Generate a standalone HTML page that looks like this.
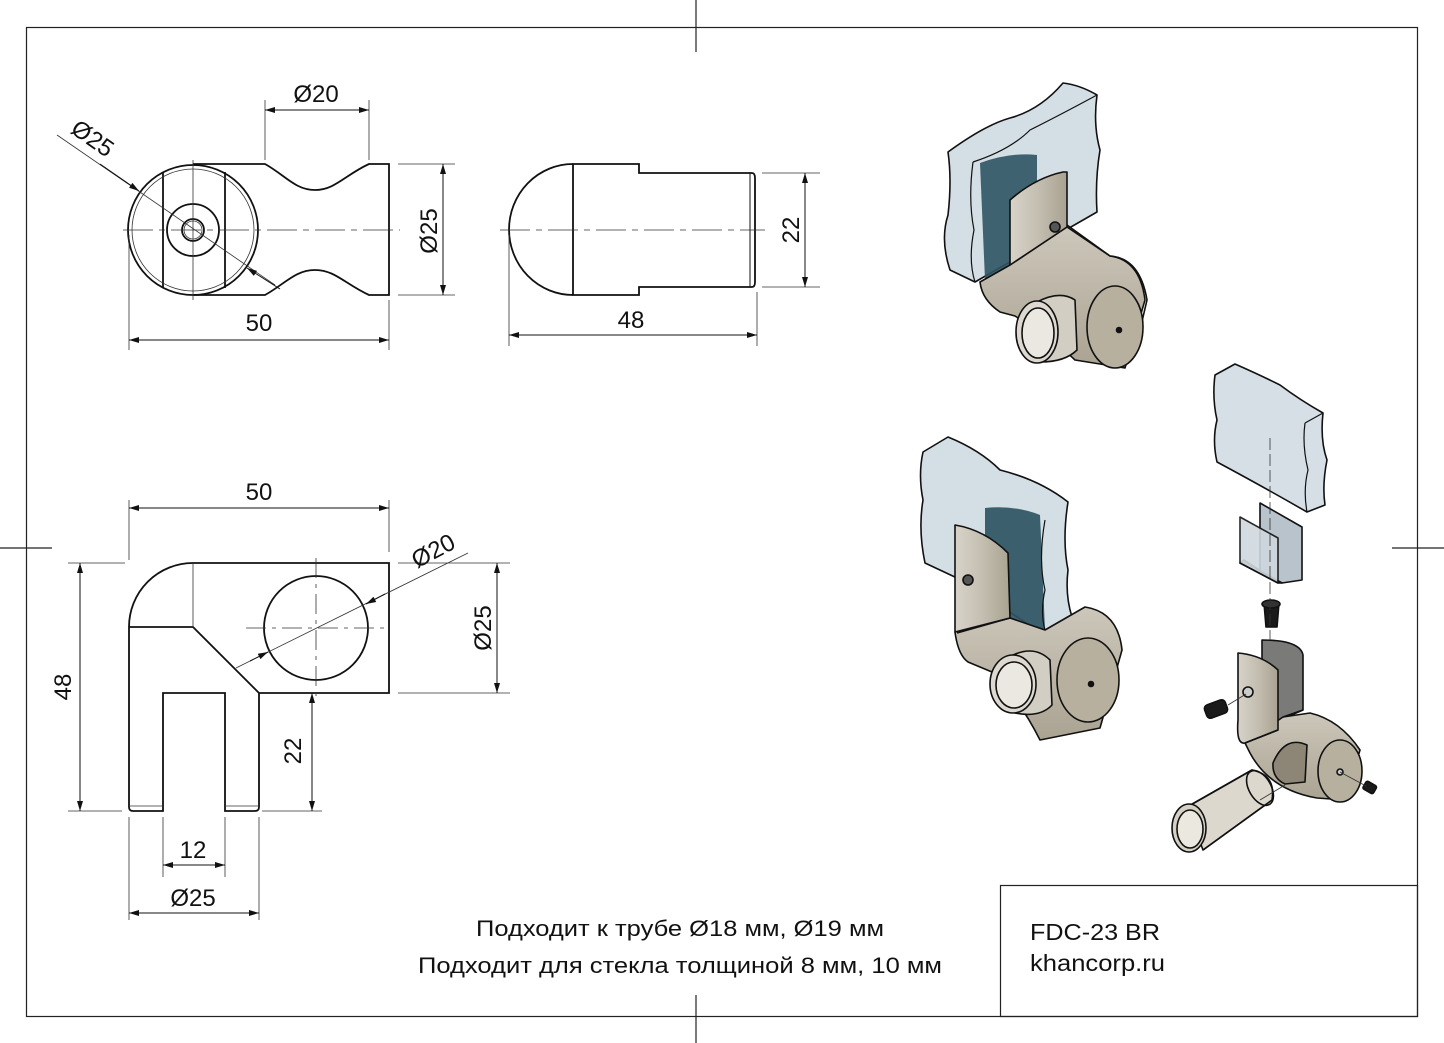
<!DOCTYPE html>
<html><head><meta charset="utf-8"><style>
html,body{margin:0;padding:0;background:#fff}
svg{display:block}
text{font-family:"Liberation Sans",sans-serif;fill:#111}
</style></head><body>
<svg width="1444" height="1043" viewBox="0 0 1444 1043" xmlns="http://www.w3.org/2000/svg">
<defs>
<marker id="a" viewBox="0 0 10 6" refX="10" refY="3" markerWidth="14" markerHeight="6" markerUnits="userSpaceOnUse" orient="auto-start-reverse"><path d="M0,0 L10,3 L0,6 z" fill="#111"/></marker>
<linearGradient id="m" x1="0" y1="0" x2="1" y2="0"><stop offset="0" stop-color="#d8d3c9"/><stop offset="0.5" stop-color="#c4beb1"/><stop offset="1" stop-color="#a9a291"/></linearGradient>
<linearGradient id="b" x1="0" y1="0" x2="0" y2="1"><stop offset="0" stop-color="#cdc7bb"/><stop offset="1" stop-color="#aaa392"/></linearGradient>
</defs>
<rect width="1444" height="1043" fill="#fff"/>
<g stroke="#222" stroke-width="1.2" fill="none">
<rect x="26.5" y="27.5" width="1391" height="989"/>
<line x1="696" y1="0" x2="696" y2="52"/><line x1="696" y1="995" x2="696" y2="1043"/>
<line x1="0" y1="548" x2="52" y2="548"/><line x1="1392" y1="548" x2="1444" y2="548"/>
<rect x="1000.5" y="885.5" width="417" height="131"/>
</g>
<text x="1030" y="940" font-size="23" textLength="130" lengthAdjust="spacingAndGlyphs">FDC-23 BR</text>
<text x="1030" y="971" font-size="23" textLength="135" lengthAdjust="spacingAndGlyphs">khancorp.ru</text>
<text x="476" y="936" font-size="22" textLength="408" lengthAdjust="spacingAndGlyphs">Подходит к трубе Ø18 мм, Ø19 мм</text>
<text x="418" y="973" font-size="22" textLength="524" lengthAdjust="spacingAndGlyphs">Подходит для стекла толщиной 8 мм, 10 мм</text>

<!-- TOP VIEW -->
<g stroke="#111" stroke-width="1.8" fill="none">
<circle cx="193" cy="230" r="65"/>
<path d="M193,164 H265 C285,175 295,190 315,190 C335,190 345,175 369,164 H389 V295 H369 C345,284 335,270 315,270 C295,270 285,284 265,295 H193"/>
<line x1="163" y1="172" x2="163" y2="288"/><line x1="225" y1="172" x2="225" y2="288"/>
<circle cx="193" cy="230" r="26"/><circle cx="193" cy="230" r="11"/>
</g>
<g stroke="#333" stroke-width="0.8" fill="none">
<circle cx="193" cy="230" r="61"/><circle cx="193" cy="230" r="9"/>
<line x1="123" y1="230" x2="400" y2="230" stroke-dasharray="30,6,6,6"/>
<line x1="193" y1="160" x2="193" y2="300"/>
<line x1="265" y1="100" x2="265" y2="160"/><line x1="369" y1="100" x2="369" y2="160"/>
<line x1="398" y1="164" x2="455" y2="164"/><line x1="398" y1="295" x2="455" y2="295"/>
<line x1="129" y1="235" x2="129" y2="350"/><line x1="389" y1="300" x2="389" y2="350"/>
<line x1="57" y1="135" x2="275" y2="285"/>
</g>
<g stroke="#111" stroke-width="1" fill="none" marker-start="url(#a)" marker-end="url(#a)">
<line x1="265" y1="110" x2="369" y2="110"/>
<line x1="443" y1="164" x2="443" y2="295"/>
<line x1="129" y1="340" x2="389" y2="340"/>
</g>
<g stroke="#111" stroke-width="1" fill="none">
<line x1="100" y1="164" x2="139" y2="191" marker-end="url(#a)"/>
<line x1="280" y1="289" x2="247" y2="268" marker-end="url(#a)"/>
</g>
<text x="316" y="102" font-size="24" text-anchor="middle">Ø20</text>
<text x="259" y="331" font-size="24" text-anchor="middle">50</text>
<text transform="translate(437,231) rotate(-90)" font-size="24" text-anchor="middle">Ø25</text>
<text transform="translate(88,145) rotate(35)" font-size="24" text-anchor="middle">Ø25</text>

<!-- SIDE VIEW -->
<g stroke="#111" stroke-width="1.8" fill="none">
<path d="M573,164 A64,65.5 0 0 0 573,295"/>
<path d="M573,164 H639 V173 H752 Q755,173 755,178 V282 Q755,287 752,287 H639 V295 H573 Z"/>
<line x1="750" y1="173" x2="750" y2="287" stroke-width="1"/>
</g>
<g stroke="#333" stroke-width="0.8" fill="none">
<line x1="500" y1="230" x2="765" y2="230" stroke-dasharray="30,6,6,6"/>
<line x1="762" y1="173" x2="820" y2="173"/><line x1="762" y1="287" x2="820" y2="287"/>
<line x1="509" y1="235" x2="509" y2="346"/><line x1="757" y1="292" x2="757" y2="346"/>
</g>
<g stroke="#111" stroke-width="1" marker-start="url(#a)" marker-end="url(#a)">
<line x1="805" y1="173" x2="805" y2="287"/>
<line x1="509" y1="335" x2="757" y2="335"/>
</g>
<text x="631" y="328" font-size="24" text-anchor="middle">48</text>
<text transform="translate(799,230) rotate(-90)" font-size="24" text-anchor="middle">22</text>

<!-- FRONT VIEW -->
<g stroke="#111" stroke-width="1.8" fill="none">
<path d="M129,627 A64,64 0 0 1 193,563 H389 V693 H259 V807 Q259,811 255,811 H225 V693 H163 V811 H133 Q129,811 129,807 Z"/>
<path d="M129,627 H193 L259,693"/>
<circle cx="316" cy="628" r="52"/>
</g>
<g stroke="#333" stroke-width="0.8" fill="none">
<line x1="193" y1="563" x2="193" y2="627"/>
<line x1="129" y1="806" x2="163" y2="806"/><line x1="225" y1="806" x2="259" y2="806"/>
<line x1="246" y1="628" x2="386" y2="628" stroke-dasharray="20,6,4,6"/>
<line x1="316" y1="558" x2="316" y2="698" stroke-dasharray="20,6,4,6"/>
<line x1="236" y1="668" x2="468" y2="553"/>
<line x1="129" y1="500" x2="129" y2="560"/><line x1="389" y1="500" x2="389" y2="552"/>
<line x1="68" y1="563" x2="125" y2="563"/><line x1="68" y1="811" x2="122" y2="811"/>
<line x1="398" y1="563" x2="510" y2="563"/><line x1="398" y1="693" x2="510" y2="693"/>
<line x1="262" y1="811" x2="322" y2="811"/>
<line x1="129" y1="817" x2="129" y2="920"/><line x1="259" y1="817" x2="259" y2="920"/>
<line x1="163" y1="817" x2="163" y2="877"/><line x1="225" y1="817" x2="225" y2="877"/>
</g>
<g stroke="#111" stroke-width="1" marker-start="url(#a)" marker-end="url(#a)">
<line x1="129" y1="508" x2="389" y2="508"/>
<line x1="80" y1="563" x2="80" y2="811"/>
<line x1="497" y1="563" x2="497" y2="693"/>
<line x1="312" y1="693" x2="312" y2="811"/>
<line x1="163" y1="865" x2="225" y2="865"/>
<line x1="129" y1="913" x2="259" y2="913"/>
</g>
<g stroke="#111" stroke-width="1">
<line x1="250" y1="661" x2="268" y2="652" marker-end="url(#a)"/>
<line x1="385" y1="594" x2="366" y2="604" marker-end="url(#a)"/>
</g>
<text x="259" y="500" font-size="24" text-anchor="middle">50</text>
<text x="193" y="858" font-size="24" text-anchor="middle">12</text>
<text x="193" y="906" font-size="24" text-anchor="middle">Ø25</text>
<text transform="translate(71,687) rotate(-90)" font-size="24" text-anchor="middle">48</text>
<text transform="translate(301,751) rotate(-90)" font-size="24" text-anchor="middle">22</text>
<text transform="translate(491,628) rotate(-90)" font-size="24" text-anchor="middle">Ø25</text>
<text transform="translate(437,558) rotate(-28)" font-size="24" text-anchor="middle">Ø20</text>

<!-- ASSEMBLY 1 -->
<g stroke="#111" stroke-width="1.6" stroke-linejoin="round">
<path d="M948,152 Q985,125 1010,118 Q1040,110 1063,83 Q1080,85 1097,95 Q1093,125 1100,150 Q1095,180 1097,212 L975,282 L950,270 Q940,240 948,215 Q952,180 948,152 Z" fill="#d4dee5"/>
<path d="M973,162 Q1010,150 1030,130 Q1060,115 1097,95" fill="none" stroke-width="1.2"/>
<path d="M973,162 Q968,200 974,230 Q968,260 975,282" fill="none" stroke-width="1.2"/>
<path d="M980,163 Q1010,152 1037,155 L1037,262 L985,280 Z" fill="#2f5464" stroke="none" opacity="0.9"/>
<path d="M980,282 Q982,300 1000,312 L1015,316 Q1060,345 1075,360 L1125,368 L1145,300 Q1140,260 1110,256 L1067,227 L1010,265 Z" fill="url(#b)"/>
<path d="M1010,265 L1010,200 Q1035,178 1063,172 L1067,172 L1067,227" fill="url(#m)"/>
<path d="M1010,265 L1067,227" fill="none"/>
<path d="M1067,225 L1110,256 Q1140,258 1147,300 L1140,330" fill="none"/>
<ellipse cx="1115" cy="327" rx="28" ry="41" fill="#b7b09f"/>
<circle cx="1119" cy="330" r="2.5" fill="#111"/>
<path d="M1037,302 Q1060,290 1075,300 L1077,350 Q1065,362 1040,362 Z" fill="#d3cec3"/>
<ellipse cx="1037" cy="332" rx="21" ry="31" fill="#ddd9d0"/>
<ellipse cx="1038" cy="333" rx="16" ry="25" fill="#ebe8e1"/>
<circle cx="1055" cy="227" r="5" fill="#555"/>
</g>
<!-- ASSEMBLY 2 -->
<g stroke="#111" stroke-width="1.6" stroke-linejoin="round">
<path d="M923,452 L948,437 Q980,450 1000,470 Q1040,480 1068,502 Q1062,540 1068,570 Q1065,595 1072,617 L1045,635 L957,578 L925,563 Q918,530 923,500 Q918,475 923,452 Z" fill="#d4dee5"/>
<path d="M985,508 Q1015,505 1040,515 L1045,630 L1010,618 L985,610 Z" fill="#2f5464" stroke="none" opacity="0.92"/>
<path d="M1045,520 Q1038,560 1045,590 Q1040,612 1045,630" fill="none" stroke-width="1.2"/>
<path d="M955,632 Q958,655 968,662 L992,672 Q1020,700 1040,740 L1100,728 L1122,650 Q1118,612 1085,607 L1045,630 L1010,618 Z" fill="url(#b)"/>
<path d="M955,632 L955,525 Q985,530 1008,553 L1010,618 Z" fill="url(#m)"/>
<path d="M957,633 L1010,618" fill="none"/>
<ellipse cx="1088" cy="680" rx="31" ry="42" fill="#b7b09f"/>
<circle cx="1091" cy="684" r="2.5" fill="#111"/>
<path d="M1013,655 Q1035,645 1050,660 L1052,705 Q1040,718 1015,713 Z" fill="#d3cec3"/>
<ellipse cx="1013" cy="684" rx="23" ry="29" fill="#ddd9d0"/>
<ellipse cx="1014" cy="685" rx="18" ry="23" fill="#ebe8e1"/>
<circle cx="968" cy="580" r="5" fill="#555"/>
</g>
<!-- EXPLODED -->
<g stroke="#111" stroke-width="1.6" stroke-linejoin="round">
<path d="M1215,375 L1235,364 Q1260,375 1280,385 Q1300,400 1323,413 Q1320,440 1327,460 Q1322,485 1325,505 L1307,512 Q1260,485 1217,462 Q1212,440 1217,420 Q1212,398 1215,375 Z" fill="#d6dfe6"/>
<path d="M1305,423 Q1302,445 1308,470 Q1303,490 1307,512" fill="none" stroke-width="1.2"/>
<path d="M1305,423 L1323,413" fill="none" stroke-width="1.2"/>
<path d="M1260,503 L1302,527 L1302,580 L1282,583 L1260,572 Z" fill="#b8c3cb"/>
<path d="M1244,560 L1262,572 L1282,583 L1278,583 L1240,563 Z" fill="#6d8595"/>
<path d="M1240,517 L1278,538 L1278,583 L1240,563 Z" fill="#d0d8de" opacity="0.9"/>
<path d="M1264,603 L1279,603 L1277,627 L1266,627 Z" fill="#1a1a1a"/>
<ellipse cx="1271" cy="604" rx="9" ry="4" fill="#333"/>
<path d="M1262,640 Q1300,640 1303,655 L1303,710 L1280,720 L1262,720 Z" fill="#7a7a78"/>
<path d="M1250,753 Q1270,790 1317,798 L1345,800 L1360,750 Q1340,720 1310,713 L1283,717 L1245,743 Z" fill="url(#b)"/>
<path d="M1238,653 Q1262,655 1278,670 L1278,730 L1245,743 Q1236,745 1238,720 Z" fill="url(#m)"/>
<path d="M1278,730 L1245,743" fill="none"/>
<path d="M1283,717 L1303,710" fill="none"/>
<path d="M1273,763 Q1285,735 1307,745 L1305,782 L1285,784 Q1272,778 1273,763 Z" fill="#8d8677"/>
<ellipse cx="1340" cy="771" rx="22" ry="31" fill="#b7b09f"/>
<circle cx="1340" cy="772" r="3" fill="#ccc"/>
<circle cx="1248" cy="692" r="5" fill="#ccc"/>
<rect x="1205" y="702" width="22" height="14" rx="4" fill="#1a1a1a" transform="rotate(-20 1216 709)"/>
<rect x="1364" y="783" width="12" height="9" rx="2" fill="#1a1a1a" transform="rotate(30 1370 787)"/>
<path d="M1187,807 L1252,770 Q1276,775 1272,800 L1203,850 Z" fill="#dcd8cd"/>
<ellipse cx="1260" cy="788" rx="11" ry="19" fill="#dcd8cd" transform="rotate(-30 1260 788)"/>
<path d="M1187,807 L1252,770 Q1276,775 1272,800 L1203,850" fill="none"/>
<ellipse cx="1189" cy="828" rx="17" ry="24" fill="#d5d0c4"/>
<ellipse cx="1190" cy="829" rx="13" ry="19" fill="#ebe8e0"/>
</g>
<g stroke="#333" stroke-width="0.8" fill="none">
<line x1="1270" y1="438" x2="1270" y2="640" stroke-dasharray="12,4"/>
<line x1="1228" y1="705" x2="1246" y2="694"/>
<line x1="1340" y1="772" x2="1366" y2="786"/>
<line x1="1260" y1="800" x2="1285" y2="785"/>
</g>
</svg>
</body></html>
